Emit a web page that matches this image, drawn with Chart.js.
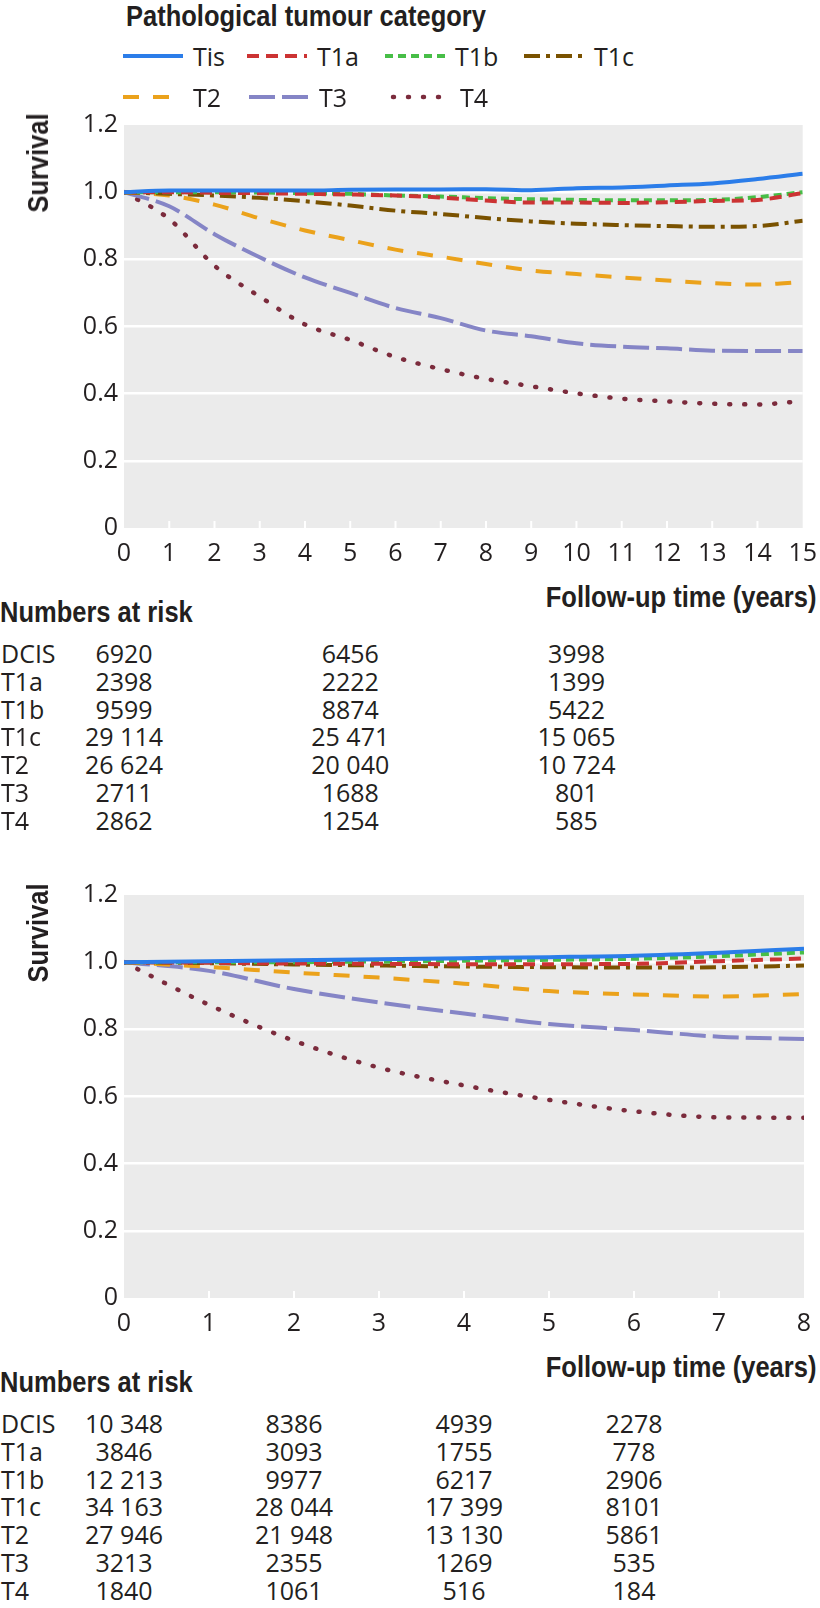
<!DOCTYPE html>
<html>
<head>
<meta charset="utf-8">
<script src="https://cdn.jsdelivr.net/npm/chart.js@4.4.0/dist/chart.umd.min.js"></script>
<style>
html,body{margin:0;padding:0;background:#fff;}
body{width:820px;height:1608px;position:relative;overflow:hidden;font-family:'Open Sans',sans-serif;color:#231f20;}
.abs{position:absolute;line-height:1;white-space:nowrap;}
.hd{font-family:'Liberation Sans',Arial,sans-serif;font-weight:bold;font-size:30px;}
.tx{font-size:25px;}
canvas{position:absolute;left:0;}
</style>
</head>
<body>
<canvas id="c1" width="820" height="470" style="top:104px"></canvas>
<canvas id="c2" width="820" height="470" style="top:874px"></canvas>
<div id="txt"></div>
<script>
// ── DATA ─────────────────────────────────────────────────
var cats=['Tis','T1a','T1b','T1c','T2','T3','T4'];

// panel 1: 0-15 years
var years1=[0,1,2,3,4,5,6,7,8,9,10,11,12,13,14,15];
var tis1=[1.000,1.005,1.005,1.005,1.005,1.007,1.008,1.008,1.009,1.006,1.012,1.014,1.020,1.026,1.039,1.055];
var t1a1=[1.000,1.000,0.998,0.997,0.995,0.993,0.990,0.984,0.975,0.969,0.969,0.968,0.970,0.974,0.977,0.997];
var t1b1=[1.000,1.000,1.000,0.999,0.997,0.995,0.990,0.987,0.982,0.979,0.977,0.976,0.976,0.977,0.985,1.000];
var t1c1=[1.000,0.995,0.990,0.983,0.973,0.960,0.945,0.935,0.923,0.913,0.906,0.902,0.899,0.897,0.899,0.915];
var t2_1=[1.000,0.990,0.963,0.922,0.886,0.857,0.829,0.808,0.786,0.767,0.756,0.746,0.737,0.729,0.725,0.733];
var t3_1=[1.000,0.958,0.875,0.806,0.746,0.700,0.655,0.625,0.588,0.571,0.550,0.540,0.535,0.528,0.527,0.527];
var t4_1=[1.000,0.920,0.781,0.689,0.606,0.560,0.509,0.473,0.444,0.422,0.401,0.385,0.377,0.370,0.368,0.378];

// panel 2: 0-8 years
var years2=[0,1,2,3,4,5,6,7,8];
var tis2=[1.000,1.003,1.006,1.009,1.012,1.015,1.019,1.028,1.040];
var t1a2=[1.000,0.998,0.996,0.995,0.994,0.994,0.995,1.003,1.011];
var t1b2=[1.000,1.000,1.000,1.002,1.004,1.007,1.010,1.018,1.029];
var t1c2=[1.000,0.997,0.993,0.990,0.987,0.985,0.984,0.985,0.990];
var t2_2=[1.000,0.986,0.969,0.954,0.936,0.914,0.904,0.898,0.905];
var t3_2=[1.000,0.974,0.920,0.880,0.847,0.816,0.798,0.778,0.771];
var t4_2=[1.000,0.873,0.766,0.686,0.633,0.590,0.556,0.538,0.537];

// numbers at risk
var riskRows=['DCIS','T1a','T1b','T1c','T2','T3','T4'];
var riskYears1=[0,5,10];
var risk1=[
  ['6920','6456','3998'],
  ['2398','2222','1399'],
  ['9599','8874','5422'],
  ['29 114','25 471','15 065'],
  ['26 624','20 040','10 724'],
  ['2711','1688','801'],
  ['2862','1254','585']
];
var riskYears2=[0,2,4,6];
var risk2=[
  ['10 348','8386','4939','2278'],
  ['3846','3093','1755','778'],
  ['12 213','9977','6217','2906'],
  ['34 163','28 044','17 399','8101'],
  ['27 946','21 948','13 130','5861'],
  ['3213','2355','1269','535'],
  ['1840','1061','516','184']
];

// ── STYLES ───────────────────────────────────────────────
var STY=[
  {color:'#2b7de9',dash:[],cap:'butt',w:4},
  {color:'#cc3333',dash:[12,7],cap:'butt',w:4},
  {color:'#47be47',dash:[8,5],cap:'butt',w:4},
  {color:'#7a5200',dash:[16,6,4,6],cap:'butt',w:4},
  {color:'#eba21b',dash:[16,14],cap:'butt',w:4},
  {color:'#8585c6',dash:[26,7],cap:'butt',w:4},
  {color:'#7b2b3c',dash:[1,14],cap:'round',w:4.5}
];
var TXT='#231f20';
var SQ=' scaleX(0.85)';   // narrow the bold headings

function pts(xs,ys){return xs.map(function(x,i){return {x:x,y:ys[i]};});}

var bgPlugin={id:'bg',beforeDraw:function(c){
  var a=c.chartArea,ctx=c.ctx;
  ctx.save();ctx.fillStyle='#ebebeb';
  ctx.fillRect(a.left,a.top,a.right-a.left,a.bottom-a.top);
  ctx.restore();
}};
var tickPlugin={id:'wticks',beforeDatasetsDraw:function(c){
  var a=c.chartArea,ctx=c.ctx,sx=c.scales.x;
  ctx.save();ctx.strokeStyle='#fff';ctx.lineWidth=2;
  sx.ticks.forEach(function(t){
    var px=sx.getPixelForValue(t.value);
    if(px<=a.left+1||px>=a.right-1)return;
    ctx.beginPath();ctx.moveTo(px,a.bottom);ctx.lineTo(px,a.bottom-7);ctx.stroke();
  });
  ctx.restore();
}};

function makeChart(id,xs,series,xmax){
  return new Chart(document.getElementById(id).getContext('2d'),{
    type:'line',
    data:{datasets:series.map(function(s,i){
      return {label:cats[i],data:pts(xs,s),borderColor:STY[i].color,borderWidth:STY[i].w,
        borderDash:STY[i].dash,borderCapStyle:STY[i].cap,pointRadius:0,fill:false,
        cubicInterpolationMode:'monotone'};
    })},
    options:{
      responsive:false,animation:false,devicePixelRatio:1,
      layout:{padding:{top:20,right:16,left:0,bottom:0}},
      plugins:{legend:{display:false},tooltip:{enabled:false}},
      scales:{
        x:{type:'linear',min:0,max:xmax,
          ticks:{stepSize:1,color:TXT,padding:3,maxRotation:0,autoSkip:false,font:{family:'Open Sans',size:25}},
          grid:{display:false},border:{display:false},
          afterFit:function(s){s.height=46;}},
        y:{min:0,max:1.2,
          ticks:{stepSize:0.2,color:TXT,padding:6,font:{family:'Open Sans',size:25},
            callback:function(v){return Math.abs(v)<1e-9?'0':Number(v).toFixed(1);}},
          grid:{drawTicks:false,lineWidth:2.5,color:function(ctx){
            var v=ctx.tick?ctx.tick.value:0;
            return (Math.abs(v)<1e-9||Math.abs(v-1.2)<1e-9)?'rgba(0,0,0,0)':'#ffffff';}},
          border:{display:false},
          afterFit:function(s){s.width=124;}}
      }
    },
    plugins:[bgPlugin,tickPlugin]
  });
}

var ch1=makeChart('c1',years1,[tis1,t1a1,t1b1,t1c1,t2_1,t3_1,t4_1],15);
var ch2=makeChart('c2',years2,[tis2,t1a2,t1b2,t1c2,t2_2,t3_2,t4_2],8);

// ── TEXT / LEGEND ────────────────────────────────────────
var box=document.getElementById('txt');
function put(html,cls,left,cy,extra){
  var d=document.createElement('div');
  d.className='abs '+cls;
  d.innerHTML=html;
  d.style.left=left+'px';d.style.top=cy+'px';
  d.style.transformOrigin='left center';
  d.style.transform='translateY(-50%)'+(extra||'');
  box.appendChild(d);return d;
}
function putRight(html,cls,right,cy,extra){
  var d=put(html,cls,0,cy,extra);d.style.left='';d.style.right=(820-right)+'px';
  d.style.transformOrigin='right center';return d;
}
function putCenter(html,cls,cx,cy){
  var d=put(html,cls,cx,cy);d.style.transformOrigin='';d.style.transform='translate(-50%,-50%)';return d;
}

// legend
put('Pathological tumour category','hd',126,16,SQ);
var legPos=[[123,56],[247,56],[385,56],[524,56],[123,97],[249,97],[390,97]];
cats.forEach(function(c,i){
  var s=STY[i],x=legPos[i][0],y=legPos[i][1];
  var svg='<svg width="60" height="10" style="display:block"><line x1="'+(s.cap==='round'?3:0)+'" y1="5" x2="60" y2="5" stroke="'+s.color+
    '" stroke-width="'+s.w+'" stroke-linecap="'+s.cap+'"'+(s.dash.length?' stroke-dasharray="'+s.dash.join(',')+'"':'')+'/></svg>';
  put(svg,'',x,y);
  put(c,'tx',x+70,y);
});

// y axis titles
[163,933].forEach(function(cy){
  var d=putCenter('Survival','hd',38,cy);
  d.style.transform='translate(-50%,-50%) rotate(-90deg)'+SQ;
});

function riskTable(chart,yrs,rows,off){
  putRight('Follow-up time (years)','hd',816,597+off,SQ);
  put('Numbers at risk','hd',0,612+off,SQ);
  riskRows.forEach(function(r,ri){
    var cy=653+ri*27.83+off;
    put(r,'tx',1,cy);
    yrs.forEach(function(yv,ci){
      putCenter(rows[ri][ci],'tx',chart.scales.x.getPixelForValue(yv),cy);
    });
  });
}
riskTable(ch1,riskYears1,risk1,0);
riskTable(ch2,riskYears2,risk2,770);
</script>
</body>
</html>
